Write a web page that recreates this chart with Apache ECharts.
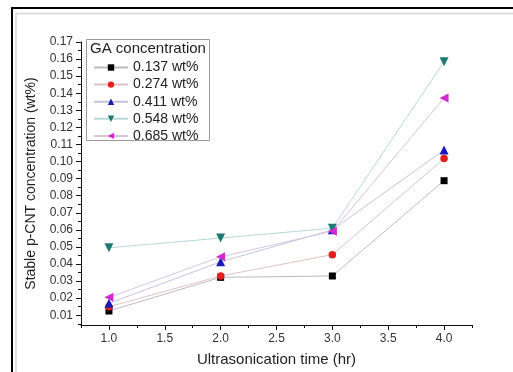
<!DOCTYPE html>
<html>
<head>
<meta charset="utf-8">
<script src="https://cdn.jsdelivr.net/npm/echarts@6/dist/echarts.min.js"></script>
<style>
html,body{margin:0;padding:0;background:#fff;}
#chart{width:513px;height:372px;}
</style>
</head>
<body>
<div id="chart"></div>
<script>
// Data
const times = [1.0, 2.0, 3.0, 4.0];
const seriesNames = ['0.137 wt%', '0.274 wt%', '0.411 wt%', '0.548 wt%', '0.685 wt%'];
const conc137 = [0.0125, 0.0322, 0.0330, 0.0888];
const conc274 = [0.0150, 0.0330, 0.0455, 0.1018];
const conc411 = [0.0170, 0.0413, 0.0600, 0.1068];
const conc548 = [0.0495, 0.0552, 0.0610, 0.1585];
const conc685 = [0.0205, 0.0442, 0.0592, 0.1372];
const yTickLabels = [0.01,0.02,0.03,0.04,0.05,0.06,0.07,0.08,0.09,0.10,0.11,0.12,0.13,0.14,0.15,0.16,0.17];
const yMinorTicks = [0.005,0.015,0.025,0.035,0.045,0.055,0.065,0.075,0.085,0.095,0.105,0.115,0.125,0.135,0.145,0.155,0.165];
const xTickLabels = [1.0,1.5,2.0,2.5,3.0,3.5,4.0];
const xMinorTicks = [0.75,1.25,1.75,2.25,2.75,3.25,3.75,4.25];

const allValues = [conc137, conc274, conc411, conc548, conc685];
const markerColors = ['#000000', '#e3201b', '#1a1ab8', '#1c7a72', '#d02ad0'];
const lineColors = ['#bcbcc0', '#dcc4c4', '#c4c4dc', '#b8d8d8', '#dcc4dc'];
const symbols = ['rect', 'circle', 'triangle', 'triangle', 'triangle'];
const rotates = [0, 0, 0, 180, 90];
const sizes = [7, 7.5, 9, 9, 9];

const chart = echarts.init(document.getElementById('chart'), null, {renderer: 'canvas'});
const font = 'Liberation Sans, Arial, sans-serif';

const series = seriesNames.map((n, i) => ({
  name: n,
  type: 'line',
  xAxisIndex: 0,
  yAxisIndex: 0,
  data: times.map((t, j) => [t, allValues[i][j]]),
  symbol: symbols[i],
  symbolSize: sizes[i],
  symbolRotate: rotates[i],
  showSymbol: true,
  itemStyle: {color: markerColors[i]},
  lineStyle: {color: lineColors[i], width: 1},
  emphasis: {disabled: true},
  animation: false
}));

const option = {
  backgroundColor: '#fff',
  animation: false,
  grid: {left: 81, right: 41, top: 42, bottom: 39, containLabel: false},
  xAxis: [{
    type: 'value', min: 0.75, max: 4.25,
    name: 'Ultrasonication time (hr)', nameLocation: 'middle', nameGap: 27,
    nameTextStyle: {fontFamily: font, fontSize: 15, color: '#222'},
    axisLine: {show: true, onZero: false, lineStyle: {color: '#111', width: 1}},
    axisTick: {show: true, length: 5, customValues: xTickLabels, lineStyle: {color: '#111'}},
    axisLabel: {customValues: xTickLabels, formatter: v => v.toFixed(1), fontFamily: font, fontSize: 12, color: '#333', margin: 8},
    splitLine: {show: false}
  }, {
    type: 'value', min: 0.75, max: 4.25, position: 'bottom',
    axisLine: {show: false},
    axisTick: {show: true, length: 3, customValues: xMinorTicks, lineStyle: {color: '#111'}},
    axisLabel: {show: false},
    splitLine: {show: false}
  }],
  yAxis: [{
    type: 'value', min: 0.0043, max: 0.17,
    name: 'Stable p-CNT concentration (wt%)', nameLocation: 'middle', nameGap: 43,
    nameTextStyle: {fontFamily: font, fontSize: 14, color: '#222'},
    axisLine: {show: true, onZero: false, lineStyle: {color: '#111', width: 1}},
    axisTick: {show: true, length: 5, customValues: yTickLabels, lineStyle: {color: '#111'}},
    axisLabel: {customValues: yTickLabels, formatter: v => v.toFixed(2), fontFamily: font, fontSize: 12, color: '#333', margin: 8},
    splitLine: {show: false}
  }, {
    type: 'value', min: 0.0043, max: 0.17, position: 'left',
    axisLine: {show: false},
    axisTick: {show: true, length: 3, customValues: yMinorTicks, lineStyle: {color: '#111'}},
    axisLabel: {show: false},
    splitLine: {show: false}
  }],
  legend: {
    orient: 'vertical', left: 93, top: 60.5,
    itemWidth: 34, itemHeight: 8, itemGap: 3.1,
    padding: 0,
    textStyle: {fontFamily: font, fontSize: 14, color: '#222', lineHeight: 14},
    data: seriesNames
  },
  graphic: [
    {type: 'rect', shape: {x: 86.5, y: 39.5, width: 123, height: 101}, style: {fill: null, stroke: '#9a9a9a', lineWidth: 1}, z: 1},
    {type: 'text', left: 90, top: 41, style: {text: 'GA concentration', font: '15px Liberation Sans, Arial, sans-serif', fill: '#222'}},
    {type: 'line', shape: {x1: 12, y1: 8, x2: 513, y2: 8}, style: {stroke: '#000', lineWidth: 2}},
    {type: 'line', shape: {x1: 12, y1: 7, x2: 12, y2: 372}, style: {stroke: '#000', lineWidth: 2}},
    {type: 'line', shape: {x1: 16, y1: 13.5, x2: 513, y2: 13.5}, style: {stroke: '#d8d8d8', lineWidth: 1.5}},
    {type: 'line', shape: {x1: 16, y1: 13, x2: 16, y2: 372}, style: {stroke: '#d8d8d8', lineWidth: 1.5}}
  ],
  series: series
};
chart.setOption(option);
</script>
</body>
</html>
